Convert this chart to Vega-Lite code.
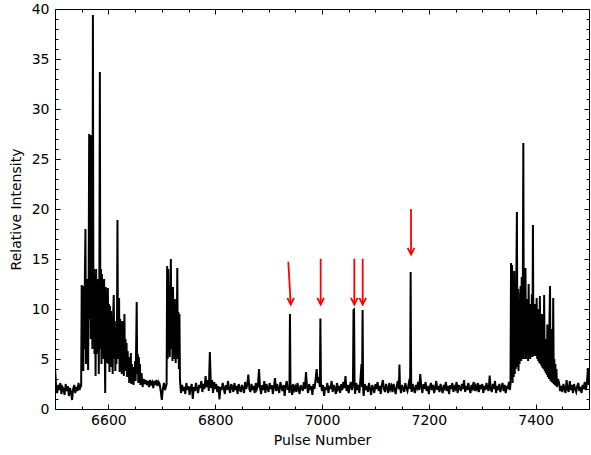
{
"$schema": "https://vega.github.io/schema/vega-lite/v6.json",
"width": 534, "height": 400,
"autosize": {"type": "none"},
"padding": {"left": 55, "top": 9, "right": 2, "bottom": 46},
"background": "white",
"config": {"view": {"stroke": null}, "font": "DejaVu Sans",
 "axis": {"labelFont": "DejaVu Sans", "titleFont": "DejaVu Sans", "labelFontSize": 14, "titleFontSize": 14, "titleFontWeight": "normal", "labelColor": "#000", "titleColor": "#000", "tickColor": "#000", "domainColor": "#000", "grid": false, "tickWidth": 1, "domainWidth": 1}},
"datasets": {
"sig": [
{"x":6500,"y":4.2},{"x":6502,"y":2.3},{"x":6504,"y":1.6},{"x":6506,"y":2.4},{"x":6508,"y":1.9},{"x":6510,"y":2.6},{"x":6512,"y":1.5},{"x":6514,"y":2.2},{"x":6516,"y":2.0},{"x":6518,"y":1.4},{"x":6520,"y":2.5},{"x":6522,"y":1.8},{"x":6524,"y":2.3},{"x":6526,"y":1.3},{"x":6528,"y":2.1},{"x":6530,"y":1.7},{"x":6532,"y":0.9},{"x":6534,"y":2.0},{"x":6536,"y":2.4},{"x":6538,"y":1.6},{"x":6540,"y":2.2},{"x":6542,"y":1.8},{"x":6544,"y":2.6},{"x":6546,"y":1.9},{"x":6548,"y":2.3},
{"x":6549,"y":2.2},{"x":6550,"y":12.4},{"x":6551,"y":4.0},{"x":6552,"y":12.3},{"x":6553,"y":3.8},{"x":6554,"y":12.2},{"x":6555,"y":6.0},{"x":6556,"y":13.5},{"x":6557,"y":18.0},{"x":6558,"y":4.5},{"x":6559,"y":11.0},{"x":6560,"y":5.0},{"x":6561,"y":13.0},{"x":6562,"y":3.9},{"x":6563,"y":12.5},{"x":6564,"y":27.5},{"x":6565,"y":9.0},{"x":6566,"y":27.3},{"x":6567,"y":7.0},{"x":6568,"y":27.4},{"x":6569,"y":12.0},{"x":6570,"y":6.0},{"x":6571,"y":39.4},{"x":6572,"y":8.0},{"x":6573,"y":14.0},{"x":6574,"y":5.5},{"x":6575,"y":13.5},{"x":6576,"y":3.3},{"x":6577,"y":14.0},{"x":6578,"y":7.0},{"x":6579,"y":12.5},{"x":6580,"y":5.5},{"x":6581,"y":13.0},{"x":6582,"y":3.5},{"x":6583,"y":12.0},{"x":6584,"y":33.7},{"x":6585,"y":6.0},{"x":6586,"y":14.0},{"x":6587,"y":4.5},{"x":6588,"y":13.5},{"x":6589,"y":6.5},{"x":6590,"y":12.8},{"x":6591,"y":5.0},{"x":6592,"y":13.0},{"x":6593,"y":7.0},{"x":6594,"y":1.6},{"x":6595,"y":12.2},{"x":6596,"y":5.5},{"x":6597,"y":11.5},{"x":6598,"y":4.6},{"x":6599,"y":12.1},{"x":6600,"y":4.5},{"x":6601,"y":10.5},{"x":6602,"y":3.7},{"x":6603,"y":10.3},{"x":6604,"y":5.0},{"x":6605,"y":9.8},{"x":6606,"y":4.2},{"x":6607,"y":8.8},{"x":6608,"y":3.5},{"x":6609,"y":9.5},{"x":6610,"y":11.4},{"x":6611,"y":5.0},{"x":6612,"y":8.8},{"x":6613,"y":3.8},{"x":6614,"y":8.0},{"x":6615,"y":4.5},{"x":6616,"y":7.5},{"x":6617,"y":18.9},{"x":6618,"y":5.0},{"x":6619,"y":9.0},{"x":6620,"y":11.1},{"x":6621,"y":3.7},{"x":6622,"y":9.0},{"x":6623,"y":6.0},{"x":6624,"y":8.5},{"x":6625,"y":3.5},{"x":6626,"y":8.8},{"x":6627,"y":4.5},{"x":6628,"y":8.0},{"x":6629,"y":3.3},{"x":6630,"y":9.5},{"x":6631,"y":4.0},{"x":6632,"y":7.0},{"x":6633,"y":3.8},{"x":6634,"y":6.6},{"x":6635,"y":3.2},{"x":6636,"y":5.8},{"x":6637,"y":4.0},{"x":6638,"y":5.0},{"x":6639,"y":2.6},{"x":6640,"y":5.2},{"x":6641,"y":3.0},{"x":6642,"y":5.6},{"x":6643,"y":2.5},{"x":6644,"y":4.5},{"x":6645,"y":3.0},{"x":6646,"y":4.2},{"x":6647,"y":2.4},{"x":6648,"y":3.3},{"x":6649,"y":2.9},{"x":6650,"y":4.8},{"x":6651,"y":2.8},{"x":6652,"y":6.5},{"x":6653,"y":10.7},{"x":6654,"y":3.5},{"x":6655,"y":5.5},{"x":6656,"y":2.6},{"x":6657,"y":5.2},{"x":6658,"y":3.0},{"x":6659,"y":4.5},{"x":6660,"y":2.4},{"x":6662,"y":3.6},{"x":6664,"y":2.2},{"x":6666,"y":3.0},{"x":6668,"y":2.5},
{"x":6670,"y":2.9},{"x":6672,"y":2.4},{"x":6674,"y":2.8},{"x":6676,"y":2.2},{"x":6678,"y":2.9},{"x":6680,"y":2.5},{"x":6682,"y":2.7},{"x":6684,"y":2.1},{"x":6686,"y":2.8},{"x":6688,"y":2.4},{"x":6690,"y":2.9},{"x":6692,"y":2.3},{"x":6694,"y":2.7},{"x":6696,"y":2.5},{"x":6698,"y":1.8},{"x":6700,"y":0.9},{"x":6702,"y":2.0},{"x":6704,"y":2.6},{"x":6706,"y":1.9},{"x":6708,"y":2.3},
{"x":6709,"y":2.5},{"x":6710,"y":14.3},{"x":6711,"y":5.0},{"x":6712,"y":14.0},{"x":6713,"y":6.0},{"x":6714,"y":10.0},{"x":6715,"y":5.2},{"x":6716,"y":12.0},{"x":6717,"y":15.0},{"x":6718,"y":6.0},{"x":6719,"y":11.5},{"x":6720,"y":4.8},{"x":6721,"y":12.2},{"x":6722,"y":7.0},{"x":6723,"y":11.0},{"x":6724,"y":5.0},{"x":6725,"y":9.5},{"x":6726,"y":4.6},{"x":6727,"y":11.0},{"x":6728,"y":6.0},{"x":6729,"y":14.1},{"x":6730,"y":5.0},{"x":6731,"y":9.7},{"x":6732,"y":4.0},{"x":6733,"y":9.5},{"x":6734,"y":3.0},{"x":6735,"y":2.2},
{"x":6736,"y":1.6},{"x":6738,"y":2.4},{"x":6740,"y":1.8},{"x":6742,"y":2.2},{"x":6744,"y":1.5},{"x":6746,"y":2.6},{"x":6748,"y":1.9},{"x":6750,"y":2.3},{"x":6752,"y":1.4},{"x":6754,"y":2.1},{"x":6756,"y":2.5},{"x":6758,"y":1.0},{"x":6760,"y":2.2},{"x":6762,"y":1.8},{"x":6764,"y":2.6},{"x":6766,"y":2.0},{"x":6768,"y":1.6},{"x":6770,"y":2.4},{"x":6772,"y":2.1},{"x":6774,"y":2.8},{"x":6776,"y":1.7},{"x":6778,"y":2.5},{"x":6780,"y":2.0},{"x":6782,"y":3.3},{"x":6784,"y":2.2},{"x":6786,"y":2.9},{"x":6788,"y":1.8},{"x":6790,"y":5.7},{"x":6792,"y":2.1},{"x":6794,"y":2.9},{"x":6796,"y":1.6},{"x":6798,"y":2.7},{"x":6800,"y":2.0},{"x":6802,"y":2.5},{"x":6804,"y":1.7},{"x":6806,"y":2.3},{"x":6808,"y":0.95},{"x":6810,"y":2.2},{"x":6812,"y":1.9},{"x":6814,"y":2.6},{"x":6816,"y":2.1},{"x":6818,"y":1.5},{"x":6820,"y":2.4},{"x":6822,"y":1.9},{"x":6824,"y":2.8},{"x":6826,"y":2.0},{"x":6828,"y":1.6},{"x":6830,"y":2.5},{"x":6832,"y":2.2},{"x":6834,"y":1.7},{"x":6836,"y":2.6},{"x":6838,"y":1.9},{"x":6840,"y":2.3},{"x":6842,"y":1.5},{"x":6844,"y":2.5},{"x":6846,"y":2.0},{"x":6848,"y":1.7},{"x":6850,"y":2.4},{"x":6852,"y":2.1},{"x":6854,"y":1.6},{"x":6856,"y":2.7},{"x":6858,"y":2.0},{"x":6860,"y":2.4},{"x":6862,"y":3.45},{"x":6864,"y":2.0},{"x":6866,"y":1.7},{"x":6868,"y":2.5},{"x":6870,"y":1.9},{"x":6872,"y":2.3},{"x":6874,"y":1.6},{"x":6876,"y":2.6},{"x":6878,"y":2.0},{"x":6880,"y":2.3},{"x":6882,"y":4.0},{"x":6884,"y":2.1},{"x":6886,"y":1.5},{"x":6888,"y":2.4},{"x":6890,"y":1.9},{"x":6892,"y":2.8},{"x":6894,"y":1.6},{"x":6896,"y":2.5},{"x":6898,"y":2.1},{"x":6900,"y":1.7},{"x":6902,"y":2.6},{"x":6904,"y":2.0},{"x":6906,"y":2.4},{"x":6908,"y":1.5},{"x":6910,"y":2.2},{"x":6912,"y":3.1},{"x":6914,"y":1.8},{"x":6916,"y":2.5},{"x":6918,"y":2.0},{"x":6920,"y":1.6},{"x":6922,"y":2.7},{"x":6924,"y":2.2},{"x":6926,"y":1.8},{"x":6928,"y":2.4},{"x":6930,"y":1.3},{"x":6932,"y":2.3},{"x":6934,"y":2.8},{"x":6936,"y":1.9},{"x":6938,"y":2.2},{"x":6939,"y":1.6},{"x":6940,"y":9.5},{"x":6941,"y":2.0},{"x":6942,"y":2.4},{"x":6944,"y":1.4},{"x":6946,"y":2.5},{"x":6948,"y":1.9},
{"x":6950,"y":2.2},{"x":6952,"y":1.7},{"x":6954,"y":2.6},{"x":6956,"y":2.0},{"x":6958,"y":1.5},{"x":6960,"y":2.4},{"x":6962,"y":2.1},{"x":6964,"y":1.8},{"x":6966,"y":2.7},{"x":6968,"y":2.0},{"x":6970,"y":3.7},{"x":6972,"y":2.2},{"x":6974,"y":1.6},{"x":6976,"y":2.5},{"x":6978,"y":1.9},{"x":6980,"y":2.3},{"x":6982,"y":1.4},{"x":6984,"y":2.5},{"x":6986,"y":2.0},{"x":6988,"y":3.0},{"x":6990,"y":4.0},{"x":6992,"y":2.6},{"x":6994,"y":3.2},{"x":6996,"y":2.2},{"x":6997,"y":9.05},{"x":6998,"y":2.5},{"x":7000,"y":1.8},{"x":7002,"y":2.4},{"x":7004,"y":1.3},{"x":7006,"y":2.2},{"x":7008,"y":1.9},{"x":7010,"y":2.6},{"x":7012,"y":1.6},{"x":7014,"y":2.3},{"x":7016,"y":2.0},{"x":7018,"y":2.8},{"x":7020,"y":1.7},{"x":7022,"y":2.4},{"x":7024,"y":2.1},{"x":7026,"y":1.5},{"x":7028,"y":2.6},{"x":7030,"y":2.0},{"x":7032,"y":2.3},{"x":7034,"y":1.6},{"x":7036,"y":2.5},{"x":7038,"y":1.9},{"x":7040,"y":2.7},{"x":7042,"y":2.1},{"x":7044,"y":3.3},{"x":7046,"y":1.8},{"x":7048,"y":2.4},{"x":7050,"y":1.6},{"x":7052,"y":2.3},{"x":7054,"y":2.7},{"x":7056,"y":1.9},{"x":7058,"y":2.5},{"x":7059,"y":9.9},{"x":7060,"y":9.95},{"x":7061,"y":2.3},{"x":7062,"y":1.5},{"x":7064,"y":2.6},{"x":7066,"y":1.9},{"x":7068,"y":2.4},{"x":7070,"y":1.6},{"x":7072,"y":3.0},{"x":7074,"y":4.5},{"x":7075,"y":2.2},{"x":7076,"y":9.9},{"x":7077,"y":2.0},{"x":7078,"y":1.3},{"x":7080,"y":2.5},{"x":7082,"y":1.9},{"x":7084,"y":2.3},{"x":7086,"y":1.7},{"x":7088,"y":2.6},{"x":7090,"y":2.0},{"x":7092,"y":1.4},{"x":7094,"y":2.4},{"x":7096,"y":2.1},{"x":7098,"y":1.6},{"x":7100,"y":2.5},{"x":7102,"y":2.0},{"x":7104,"y":2.7},{"x":7106,"y":1.8},{"x":7108,"y":2.3},{"x":7110,"y":1.5},{"x":7112,"y":2.4},{"x":7114,"y":2.9},{"x":7116,"y":2.0},{"x":7118,"y":1.7},{"x":7120,"y":2.5},{"x":7122,"y":2.1},{"x":7124,"y":1.6},{"x":7126,"y":2.6},{"x":7128,"y":2.0},{"x":7130,"y":2.3},{"x":7132,"y":1.7},{"x":7134,"y":2.5},{"x":7136,"y":2.0},{"x":7138,"y":1.5},{"x":7140,"y":2.3},{"x":7142,"y":2.8},{"x":7144,"y":2.0},{"x":7145,"y":4.45},{"x":7146,"y":2.2},{"x":7148,"y":1.6},{"x":7150,"y":2.4},{"x":7152,"y":2.0},{"x":7154,"y":1.7},{"x":7156,"y":2.6},{"x":7158,"y":2.1},{"x":7160,"y":1.8},{"x":7162,"y":2.4},{"x":7164,"y":3.0},{"x":7165,"y":2.0},{"x":7166,"y":13.7},{"x":7167,"y":2.2},{"x":7168,"y":1.7},{"x":7170,"y":2.5},{"x":7172,"y":2.0},{"x":7174,"y":1.6},{"x":7176,"y":2.4},{"x":7178,"y":2.1},{"x":7180,"y":2.7},{"x":7182,"y":1.9},{"x":7184,"y":3.5},{"x":7186,"y":2.2},{"x":7188,"y":1.6},{"x":7190,"y":2.5},{"x":7192,"y":2.0},{"x":7194,"y":2.7},{"x":7196,"y":1.8},{"x":7198,"y":2.3},{"x":7200,"y":1.5},{"x":7202,"y":2.2},{"x":7204,"y":2.6},{"x":7206,"y":1.9},{"x":7208,"y":2.4},{"x":7210,"y":1.6},{"x":7212,"y":2.1},{"x":7214,"y":2.8},{"x":7216,"y":1.9},{"x":7218,"y":2.3},{"x":7220,"y":1.7},{"x":7222,"y":2.5},{"x":7224,"y":2.0},{"x":7226,"y":1.6},{"x":7228,"y":2.4},{"x":7230,"y":2.1},{"x":7232,"y":2.7},{"x":7234,"y":1.8},{"x":7236,"y":2.3},{"x":7238,"y":1.5},{"x":7240,"y":2.4},{"x":7242,"y":2.0},{"x":7244,"y":2.6},{"x":7246,"y":1.7},{"x":7248,"y":2.2},{"x":7250,"y":2.0},{"x":7252,"y":2.7},{"x":7254,"y":1.6},{"x":7256,"y":2.4},{"x":7258,"y":2.1},{"x":7260,"y":1.8},{"x":7262,"y":2.5},{"x":7264,"y":2.0},{"x":7266,"y":2.9},{"x":7268,"y":1.7},{"x":7270,"y":2.3},{"x":7272,"y":1.9},{"x":7274,"y":2.6},{"x":7276,"y":2.0},{"x":7278,"y":1.6},{"x":7280,"y":2.4},{"x":7282,"y":2.1},{"x":7284,"y":2.7},{"x":7286,"y":1.8},{"x":7288,"y":2.3},{"x":7290,"y":2.0},{"x":7292,"y":2.6},{"x":7294,"y":1.7},{"x":7296,"y":2.4},{"x":7298,"y":2.0},{"x":7300,"y":2.5},{"x":7302,"y":1.6},{"x":7304,"y":2.3},{"x":7306,"y":1.9},{"x":7308,"y":2.6},{"x":7310,"y":2.1},{"x":7312,"y":1.8},{"x":7314,"y":3.35},{"x":7316,"y":2.0},{"x":7318,"y":1.7},{"x":7320,"y":2.5},{"x":7322,"y":2.0},{"x":7324,"y":2.8},{"x":7326,"y":1.6},{"x":7328,"y":2.3},{"x":7330,"y":1.9},{"x":7332,"y":2.5},{"x":7334,"y":1.7},{"x":7336,"y":2.2},{"x":7338,"y":2.6},{"x":7340,"y":1.8},{"x":7342,"y":2.4},{"x":7344,"y":1.6},{"x":7346,"y":2.3},{"x":7348,"y":2.0},{"x":7350,"y":2.7},{"x":7352,"y":1.9},
{"x":7353,"y":2.5},{"x":7354,"y":14.6},{"x":7355,"y":3.0},{"x":7356,"y":14.4},{"x":7357,"y":2.6},{"x":7358,"y":12.5},{"x":7359,"y":3.2},{"x":7360,"y":13.8},{"x":7361,"y":3.5},{"x":7362,"y":11.5},{"x":7363,"y":4.0},{"x":7364,"y":13.5},{"x":7365,"y":19.7},{"x":7366,"y":4.2},{"x":7367,"y":12.0},{"x":7368,"y":3.8},{"x":7369,"y":10.5},{"x":7370,"y":4.5},{"x":7371,"y":11.5},{"x":7372,"y":12.3},{"x":7373,"y":4.8},{"x":7374,"y":13.2},{"x":7375,"y":5.0},{"x":7376,"y":11.0},{"x":7377,"y":26.6},{"x":7378,"y":5.0},{"x":7379,"y":12.0},{"x":7380,"y":5.5},{"x":7381,"y":14.1},{"x":7382,"y":5.0},{"x":7383,"y":10.5},{"x":7384,"y":5.5},{"x":7385,"y":11.0},{"x":7386,"y":4.8},{"x":7387,"y":12.5},{"x":7388,"y":5.5},{"x":7389,"y":10.5},{"x":7390,"y":5.0},{"x":7391,"y":9.5},{"x":7392,"y":5.5},{"x":7393,"y":11.5},{"x":7394,"y":5.2},{"x":7395,"y":18.4},{"x":7396,"y":5.3},{"x":7397,"y":9.5},{"x":7398,"y":5.5},{"x":7399,"y":10.5},{"x":7400,"y":5.3},{"x":7401,"y":8.5},{"x":7402,"y":11.1},{"x":7403,"y":5.0},{"x":7404,"y":9.0},{"x":7405,"y":4.8},{"x":7406,"y":10.0},{"x":7407,"y":4.6},{"x":7408,"y":11.3},{"x":7409,"y":4.5},{"x":7410,"y":8.0},{"x":7411,"y":4.3},{"x":7412,"y":9.5},{"x":7413,"y":4.1},{"x":7414,"y":7.5},{"x":7415,"y":4.0},{"x":7416,"y":11.4},{"x":7417,"y":3.8},{"x":7418,"y":7.0},{"x":7419,"y":3.6},{"x":7420,"y":6.0},{"x":7421,"y":3.4},{"x":7422,"y":8.45},{"x":7423,"y":3.2},{"x":7424,"y":6.5},{"x":7425,"y":3.0},{"x":7426,"y":9.0},{"x":7427,"y":12.3},{"x":7428,"y":2.8},{"x":7429,"y":8.0},{"x":7430,"y":2.7},{"x":7431,"y":6.5},{"x":7432,"y":2.6},{"x":7433,"y":11.1},{"x":7434,"y":2.5},{"x":7435,"y":5.0},{"x":7436,"y":2.4},{"x":7437,"y":4.5},{"x":7438,"y":2.3},{"x":7439,"y":4.0},{"x":7440,"y":2.2},
{"x":7442,"y":3.0},{"x":7444,"y":2.6},{"x":7446,"y":1.8},{"x":7448,"y":2.3},{"x":7450,"y":1.7},{"x":7452,"y":2.5},{"x":7454,"y":2.0},{"x":7456,"y":1.6},{"x":7458,"y":2.9},{"x":7460,"y":2.0},{"x":7462,"y":1.7},{"x":7464,"y":2.8},{"x":7466,"y":1.9},{"x":7468,"y":2.4},{"x":7470,"y":1.6},{"x":7472,"y":2.5},{"x":7474,"y":2.0},{"x":7476,"y":1.7},{"x":7478,"y":2.3},{"x":7480,"y":2.6},{"x":7482,"y":1.8},{"x":7484,"y":2.2},{"x":7486,"y":1.6},{"x":7488,"y":2.4},{"x":7490,"y":2.0},{"x":7492,"y":2.7},{"x":7494,"y":1.9},{"x":7496,"y":2.5},{"x":7498,"y":4.1},{"x":7500,"y":2.4}
],
"arrows": [
{"x":6936.9,"y":14.72,"x2":6941.4,"y2":10.45},
{"x":6997.5,"y":15.02,"x2":6997.5,"y2":10.45},
{"x":7060.5,"y":15.02,"x2":7060.5,"y2":10.45},
{"x":7076.2,"y":15.02,"x2":7076.2,"y2":10.45},
{"x":7166.7,"y":20.0,"x2":7166.7,"y2":15.45}
]
},
"layer": [
{
"data": {"name": "sig"},
"mark": {"type": "line", "color": "#000", "strokeWidth": 2, "clip": true},
"encoding": {
"x": {"field": "x", "type": "quantitative", "scale": {"domain": [6500, 7500], "nice": false, "zero": false},
 "axis": {"orient": "bottom", "values": [6600, 6800, 7000, 7200, 7400], "format": "d", "tickSize": -5, "labelPadding": 9, "title": "Pulse Number", "titlePadding": 6, "domain": true}},
"y": {"field": "y", "type": "quantitative", "scale": {"domain": [0, 40], "nice": false, "zero": true},
 "axis": {"orient": "left", "values": [0, 5, 10, 15, 20, 25, 30, 35, 40], "format": "d", "tickSize": -5, "labelPadding": 11, "title": "Relative Intensity", "titlePadding": 8, "domain": true}}
}
},
{
"data": {"name": "arrows"},
"mark": {"type": "rule", "color": "#ff0000", "strokeWidth": 1.8},
"encoding": {
"x": {"field": "x", "type": "quantitative", "scale": {"domain": [6500, 7500], "nice": false, "zero": false},
 "axis": {"orient": "bottom", "values": [6550,6650,6700,6750,6850,6900,6950,7050,7100,7150,7250,7300,7350,7450], "tickSize": -3, "labels": false, "domain": false, "title": null}},
"y": {"field": "y", "type": "quantitative", "scale": {"domain": [0, 40], "nice": false},
 "axis": {"orient": "left", "values": [1,2,3,4,6,7,8,9,11,12,13,14,16,17,18,19,21,22,23,24,26,27,28,29,31,32,33,34,36,37,38,39], "tickSize": -3, "labels": false, "domain": false, "title": null}},
"x2": {"field": "x2"},
"y2": {"field": "y2"}
}
},
{
"data": {"name": "arrows"},
"mark": {"type": "point", "shape": "M-0.5,-1L0,0L0.5,-1", "filled": false, "color": "#ff0000", "strokeWidth": 1.8, "size": 180, "opacity": 1},
"encoding": {
"x": {"field": "x2", "type": "quantitative", "scale": {"domain": [6500, 7500], "nice": false, "zero": false},
 "axis": {"orient": "top", "values": [6600, 6800, 7000, 7200, 7400], "tickSize": -5, "labels": false, "domain": true, "title": null}},
"y": {"field": "y2", "type": "quantitative", "scale": {"domain": [0, 40], "nice": false},
 "axis": {"orient": "right", "values": [0, 5, 10, 15, 20, 25, 30, 35, 40], "tickSize": -5, "labels": false, "domain": true, "title": null}}
}
},
{
"data": {"name": "arrows"},
"mark": {"type": "point", "opacity": 0},
"encoding": {
"x": {"field": "x", "type": "quantitative", "scale": {"domain": [6500, 7500], "nice": false, "zero": false},
 "axis": {"orient": "top", "values": [6550,6650,6700,6750,6850,6900,6950,7050,7100,7150,7250,7300,7350,7450], "tickSize": -3, "labels": false, "domain": false, "title": null}},
"y": {"field": "y", "type": "quantitative", "scale": {"domain": [0, 40], "nice": false},
 "axis": {"orient": "right", "values": [1,2,3,4,6,7,8,9,11,12,13,14,16,17,18,19,21,22,23,24,26,27,28,29,31,32,33,34,36,37,38,39], "tickSize": -3, "labels": false, "domain": false, "title": null}}
}
}
],
"resolve": {"axis": {"x": "independent", "y": "independent"}}
}
